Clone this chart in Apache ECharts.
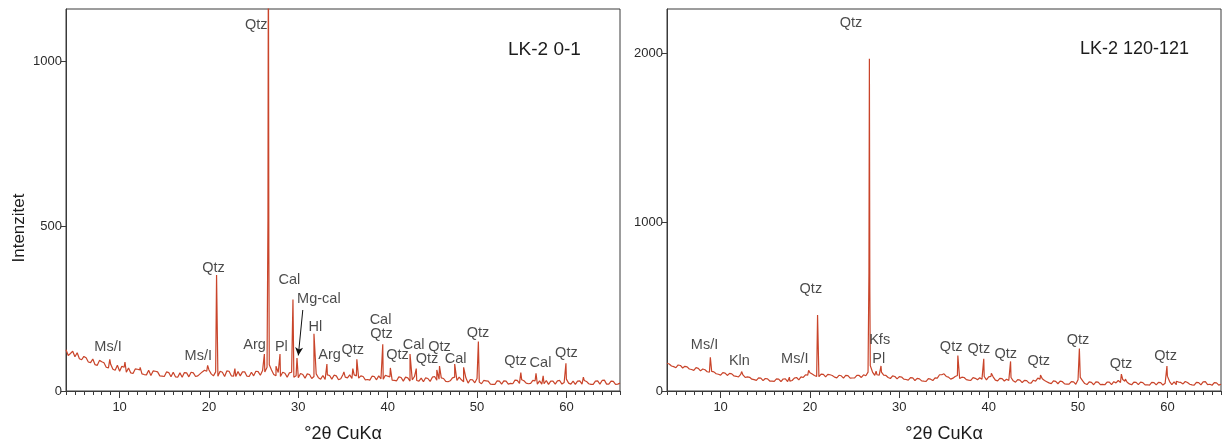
<!DOCTYPE html>
<html><head><meta charset="utf-8">
<script src="https://cdn.jsdelivr.net/npm/echarts@6/dist/echarts.min.js"></script>
<style>html,body{margin:0;padding:0;background:#fff}#c{width:1222px;height:448px}</style>
</head><body><div id="c"></div>
<script>
// scan: 4°..66° 2θ, step 0.25°
const scanStart = 4, scanStep = 0.25;

const bgLeft = [
125,108,114,121, 104,116,98,95, 105,101,88,86, 97,80,78,93, 89,86,72,70, 81,66,63,78,
60,75,72,57, 70,55,53,67, 66,64,52,50, 49,63,47,61, 60,58,46,45, 44,58,56,43,
57,43,42,55, 42,56,55,43, 57,55,44,46, 52,58,63,60, 64,52,46,58, 45,60,57,44,
61,60,46,45, 44,59,46,58, 58,45,44,57, 46,60,59,48, 62,58,72,80, 64,50,46,56,
44,57,54,42, 55,57,42,46, 40,53,50,39, 52,50,38,44, 52,40,36,47, 35,49,47,36,
48,46,34,37, 50,42,40,49, 38,49,46,39, 46,44,34,35, 33,45,44,34, 46,37,36,48,
45,43,33,32, 31,43,41,30, 42,40,30,34, 44,32,30,39, 28,40,38,29, 42,44,33,36,
40,38,29,28, 31,40,42,32, 42,34,28,40, 24,35,34,25, 38,27,22,32, 31,30,21,20,
20,31,30,21, 31,30,21,23, 22,33,32,23, 34,31,24,22, 23,32,31,21, 31,21,22,32,
20,30,30,21, 31,32,21,26, 36,24,21,30, 20,30,31,21, 32,29,22,20, 20,30,31,21,
32,33,21,21, 30,29,20,21, 24
];
const peaksLeft = [
[8.9,96],[10.6,88],[12.3,72],[19.85,78],[20.85,352],[22.9,68],[24.1,62],[26.2,112],
[26.6,520],[26.65,1450],[26.7,430],[27.5,75],[27.95,112],[29.4,278],[29.85,100],[31.75,174],
[33.2,82],[35.1,58],[36.1,68],[36.55,96],[39.45,142],[40.3,70],[42.5,112],[43.2,68],
[45.5,64],[45.8,76],[47.5,82],[48.5,72],[50.15,150],[54.9,56],[56.6,54],[57.4,46],
[59.95,84],[61.9,42]
];

const bgRight = [
164,160,148,144, 138,154,151,136, 146,143,130,127, 122,138,134,119, 130,126,114,112,
116,113,102,99, 94,109,106,92, 104,101,89,87, 83,98,95,80, 84,81,70,67, 63,78,76,61,
74,72,59,58, 57,72,70,56, 71,72,56,58, 62,76,80,66, 84,80,96,94, 108,100,92,86,
85,100,98,83, 98,96,92,82, 78,93,90,76, 92,91,76,77, 78,93,92,80, 96,90,112,150,
112,92,96,94, 112,94,92,80, 74,89,86,72, 85,83,70,68, 64,79,78,62, 75,72,60,58,
57,73,70,62, 78,76,96,96, 102,86,82,70, 76,86,92,74, 82,80,67,64, 63,79,75,67,
78,70,86,66, 84,86,84,64, 60,75,73,59, 70,62,80,60, 52,67,64,50, 63,61,48,47,
64,58,76,70, 72,62,55,48, 44,60,57,43, 58,55,42,41, 41,56,54,40, 66,80,62,44,
38,54,51,37, 54,52,38,39, 37,53,52,38, 55,48,62,50, 68,58,52,42, 37,53,51,38,
52,50,36,37, 35,51,50,36, 51,50,35,46, 88,56,38,54, 37,53,51,42, 56,50,40,36,
35,51,50,36, 54,55,38,40, 34,49,48,35, 40
];
const peaksRight = [
[8.85,200],[12.35,115],[17.7,82],[19.85,122],[20.85,450],[26.6,700],[26.65,1965],[26.7,600],
[27.4,118],[27.95,148],[36.55,210],[39.45,190],[40.3,105],[42.45,175],[45.8,95],[50.15,252],
[54.85,100],[55.3,70],[59.95,148],[61.0,58]
];

const labelsLeft = [
['Qtz',25.3,1110],['Qtz',20.5,375],['Cal',29.0,336],['Mg-cal',32.3,279],['Hl',31.9,195],
['Arg',25.1,141],['Pl',28.1,135],['Arg',33.5,108],['Qtz',36.1,126],['Cal',39.2,216],
['Qtz',39.3,174],['Qtz',41.1,108],['Cal',42.9,141],['Qtz',45.8,135],['Qtz',44.4,96],
['Cal',47.6,96],['Qtz',50.1,177],['Qtz',54.3,90],['Cal',57.1,84],['Qtz',60.0,114],
['Ms/I',8.7,135],['Ms/I',18.8,105]
];
const labelsRight = [
['Qtz',24.6,2180],['Ms/I',8.2,275],['Kln',12.1,175],['Ms/I',18.3,187],['Qtz',20.1,602],
['Kfs',27.8,304],['Pl',27.7,187],['Qtz',35.8,263],['Qtz',38.9,246],['Qtz',41.9,216],
['Qtz',45.6,175],['Qtz',50.0,304],['Qtz',54.8,158],['Qtz',59.8,205]
];
const mgCalArrow = [[30.5,246],[30.0,108]];

const xMin = 4, xMax = 66;
const yMaxLeft = 1160, yStepLeft = 500;
const yMaxRight = 2260, yStepRight = 1000;
const sampleNames = ['LK-2 0-1', 'LK-2 120-121'];
const xName = '°2θ CuKα', yName = 'Intenzitet';

const degLabels = [];
for (let d = xMin; d <= xMax; d++) degLabels.push(String(d));

function trace(bg, peaks) {
  const pts = bg.map((v, i) => [scanStart + i * scanStep, v]);
  return pts.concat(peaks).sort((a, b) => a[0] - b[0]);
}

const FONT = 'Liberation Sans, Arial, sans-serif';
const axisColor = '#3a3a3a';
const lineColor = '#c9442a';
const textColor = '#1c1c1c';

const grids = [
  { left: 66, top: 9, width: 554, height: 386 },
  { left: 667, top: 9, width: 554, height: 386 }
];

function xAxes(gi) {
  return [
    { type: 'value', gridIndex: gi, min: xMin, max: xMax, interval: 1, position: 'bottom',
      axisLine: { show: true, lineStyle: { color: axisColor, width: 1 } },
      axisTick: { show: true, length: 4, lineStyle: { color: axisColor } },
      axisLabel: { show: false }, splitLine: { show: false } },
    { type: 'category', gridIndex: gi, data: degLabels, boundaryGap: false, position: 'bottom',
      axisLine: { show: false },
      axisTick: { show: true, length: 7, interval: (i, v) => Number(v) % 10 === 0, lineStyle: { color: axisColor } },
      axisLabel: { show: true, interval: (i, v) => Number(v) % 10 === 0, margin: 10, fontSize: 13, color: '#2a2a2a', fontFamily: FONT },
      name: xName, nameLocation: 'middle', nameGap: 34,
      nameTextStyle: { fontSize: 18, color: textColor, fontFamily: FONT },
      splitLine: { show: false } }
  ];
}

function yAxis(gi, max, step, withName) {
  return { type: 'value', gridIndex: gi, min: 0, max: max, interval: step,
    axisLine: { show: true, lineStyle: { color: axisColor } },
    axisTick: { show: true, length: 5, lineStyle: { color: axisColor } },
    axisLabel: { fontSize: 13, color: '#2a2a2a', fontFamily: FONT, margin: 4, showMaxLabel: false,
      formatter: v => (v % step === 0 ? String(v) : '') },
    splitLine: { show: false },
    name: withName ? yName : '', nameLocation: 'middle', nameGap: 38,
    nameTextStyle: { fontSize: 17, color: textColor, fontFamily: FONT, padding: [0, 56, 0, 0] } };
}

function labelSeries(labels, xi, yi) {
  return { type: 'scatter', xAxisIndex: xi, yAxisIndex: yi, symbolSize: 0, silent: true, z: 5,
    data: labels.map(l => ({ name: l[0], value: [l[1], l[2]] })),
    label: { show: true, position: 'inside', formatter: '{b}', fontSize: 14.5, color: textColor, fontFamily: FONT } };
}

const leftLabelSeries = labelSeries(labelsLeft, 0, 0);
leftLabelSeries.markLine = {
  silent: true, symbol: ['none', 'arrow'], symbolSize: [6, 8],
  lineStyle: { color: '#111', width: 1, type: 'solid' }, label: { show: false },
  data: [[{ coord: mgCalArrow[0] }, { coord: mgCalArrow[1] }]]
};

const option = {
  animation: false,
  backgroundColor: '#ffffff',
  title: [
    { text: sampleNames[0], left: 503, top: 35, textStyle: { fontSize: 19, fontWeight: 'normal', color: textColor, fontFamily: FONT } },
    { text: sampleNames[1], left: 1075, top: 35, textStyle: { fontSize: 18, fontWeight: 'normal', color: textColor, fontFamily: FONT } }
  ],
  grid: grids.map(g => Object.assign({ show: true, borderColor: axisColor, borderWidth: 1, backgroundColor: '#fff' }, g)),
  xAxis: [...xAxes(0), ...xAxes(1)],
  yAxis: [yAxis(0, yMaxLeft, yStepLeft, true), yAxis(1, yMaxRight, yStepRight, false)],
  series: [
    { type: 'line', xAxisIndex: 0, yAxisIndex: 0, data: trace(bgLeft, peaksLeft), showSymbol: false,
      lineStyle: { color: lineColor, width: 1.2 }, clip: true },
    { type: 'line', xAxisIndex: 2, yAxisIndex: 1, data: trace(bgRight, peaksRight), showSymbol: false,
      lineStyle: { color: lineColor, width: 1.2 }, clip: true },
    leftLabelSeries,
    labelSeries(labelsRight, 2, 1)
  ]
};
echarts.init(document.getElementById('c'), null, { renderer: 'canvas' }).setOption(option);
</script></body></html>
